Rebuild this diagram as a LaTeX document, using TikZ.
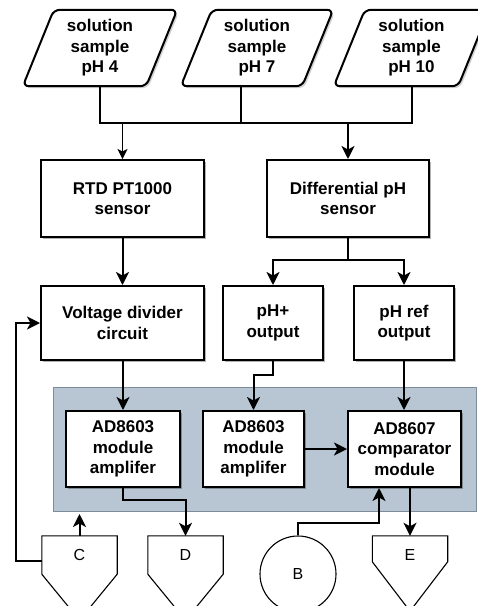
\documentclass[tikz,border=0pt]{standalone}
\usepackage{fontspec}
\setmainfont{Liberation Sans}
\usetikzlibrary{arrows.meta,calc,shadows,backgrounds}
\definecolor{panel}{RGB}{184,198,211}
\definecolor{panelborder}{RGB}{125,140,153}
\newcommand\boxfont{\bfseries\fontsize{17}{20.5}\selectfont}
\newcommand\letterfont{\fontsize{16}{19}\selectfont}
\newcommand\paradraw[1]{%
  \fill[black,opacity=0.18,rounded corners=6pt]
    ($(#1.south west)+(2,2)$) -- ($(#1.north west)+(33,2)$) -- ($(#1.north east)+(2,2)$) -- ($(#1.south east)+(-29,2)$) -- cycle;
  \draw[line width=2pt,fill=white,rounded corners=6pt]
    (#1.south west) -- ($(#1.north west)+(31,0)$) -- (#1.north east) -- ($(#1.south east)+(-31,0)$) -- cycle;}
\tikzset{
  box/.style={draw, line width=2pt, fill=white, font=\boxfont, align=center, inner sep=0pt,
    drop shadow={shadow xshift=2pt, shadow yshift=-2pt, opacity=0.3, fill=black}},
  paratext/.style={font=\boxfont, align=center, inner sep=0pt, minimum height=76},
  offp/.style={minimum width=75, minimum height=38, inner sep=0pt, font=\letterfont},
  shapeline/.style={line width=1.1pt},
  link/.style={line width=2pt},
  arr/.style={line width=2pt, -{Stealth[length=13pt,width=13pt,inset=3.5pt]}},
  thinarr/.style={line width=1pt, -{Stealth[length=10pt,width=10pt,inset=2.5pt]}},
  grpbox/.style={fill=panel, draw=panelborder, line width=0.8pt, inner sep=0pt, anchor=north west}
}
\begin{document}
\begin{tikzpicture}[x=1pt,y=-1pt]
\useasboundingbox (0,0) rectangle (478,606);

% input parallelograms
\node[paratext, minimum width=154] (p4) at (100,48) {solution\\sample\\pH 4};
\node[paratext, minimum width=152] (p7) at (257,48) {solution\\sample\\pH 7};
\node[paratext, minimum width=155] (p10) at (411.5,48) {solution\\sample\\pH 10};
\begin{scope}[on background layer]
  \paradraw{p4}
  \paradraw{p7}
  \paradraw{p10}
\end{scope}

% group panel
\node[grpbox, minimum width=423, minimum height=124] (grp) at (53,387) {};

% boxes
\node[box, minimum width=163, minimum height=77] (rtd) at (122.5,198.5) {RTD PT1000\\sensor};
\node[box, minimum width=162, minimum height=77] (diff) at (348,198.5) {Differential pH\\sensor};
\node[box, minimum width=163, minimum height=74] (vd) at (122.5,323) {Voltage divider\\circuit};
\node[box, minimum width=100, minimum height=74] (php) at (273,323) {pH+\\output};
\node[box, minimum width=100, minimum height=74] (phr) at (404,323) {pH ref\\output};
\node[box, minimum width=114, minimum height=76] (a1) at (123,449) {AD8603\\module\\amplifer};
\node[box, minimum width=101, minimum height=76] (a2) at (253.5,449) {AD8603\\module\\amplifer};
\node[box, minimum width=113, minimum height=76] (a3) at (404.5,449) {AD8607\\comparator\\module};

% off-page connectors and circle
\node[offp] (C) at (79.5,555) {C};
\node[offp] (D) at (185.5,555) {D};
\node[offp] (E) at (410,555) {E};
\draw[shapeline] (C.north west) -- (C.north east) -- (C.south east) -- ($(C.south)+(0,46)$) -- (C.south west) -- cycle;
\draw[shapeline] (D.north west) -- (D.north east) -- (D.south east) -- ($(D.south)+(0,46)$) -- (D.south west) -- cycle;
\draw[shapeline] (E.north west) -- (E.north east) -- ($(E.north east)+(0,26)$) -- ($(E.south)+(0,37)$) -- ($(E.north west)+(0,26)$) -- cycle;
\node[draw, circle, shapeline, minimum size=76, inner sep=0pt, font=\letterfont] (B) at (298,574) {B};

% connectors
\coordinate (j) at (0,123);
\coordinate (p7b) at ($(p7.south)+(-16,0)$);
\draw[link] (p4.south) -- (p4.south |- j) -- (p10.south |- j) -- (p10.south);
\draw[link] (p7b) -- (p7b |- j);
\draw[thinarr] (rtd.north |- j) -- (rtd.north);
\draw[arr] (diff.north |- j) -- (diff.north);
\draw[arr] (rtd.south) -- (vd.north);
\coordinate (k) at (0,260);
\draw[arr] (diff.south) -- (diff.south |- k) -| (php.north);
\draw[arr] (diff.south |- k) -| (phr.north);
\draw[arr] (a1.north |- vd.south) -- (a1.north);
\draw[arr] (php.south) -- ++(0,14) -| (a2.north);
\draw[arr] (phr.south) -- (phr.south |- a3.north);
\draw[arr] (a2.east) -- (a2.east -| a3.west);
\draw[arr] (a1.south) -- ++(0,12) -| (D.north);
\draw[arr] (E.north |- a3.south) -- (E.north);
\coordinate (bin) at ($(a3.south west)+(32,0)$);
\draw[arr] (B.north) -- ++(0,-12) -| (bin);
\coordinate (cup) at (79.5,514);
\draw[arr] (C.north) -- (cup);
\coordinate (cl) at (16,0);
\draw[arr] ($(C.north west)+(0,25)$) -| (cl |- vd.west) -- (vd.west);
\end{tikzpicture}
\end{document}
